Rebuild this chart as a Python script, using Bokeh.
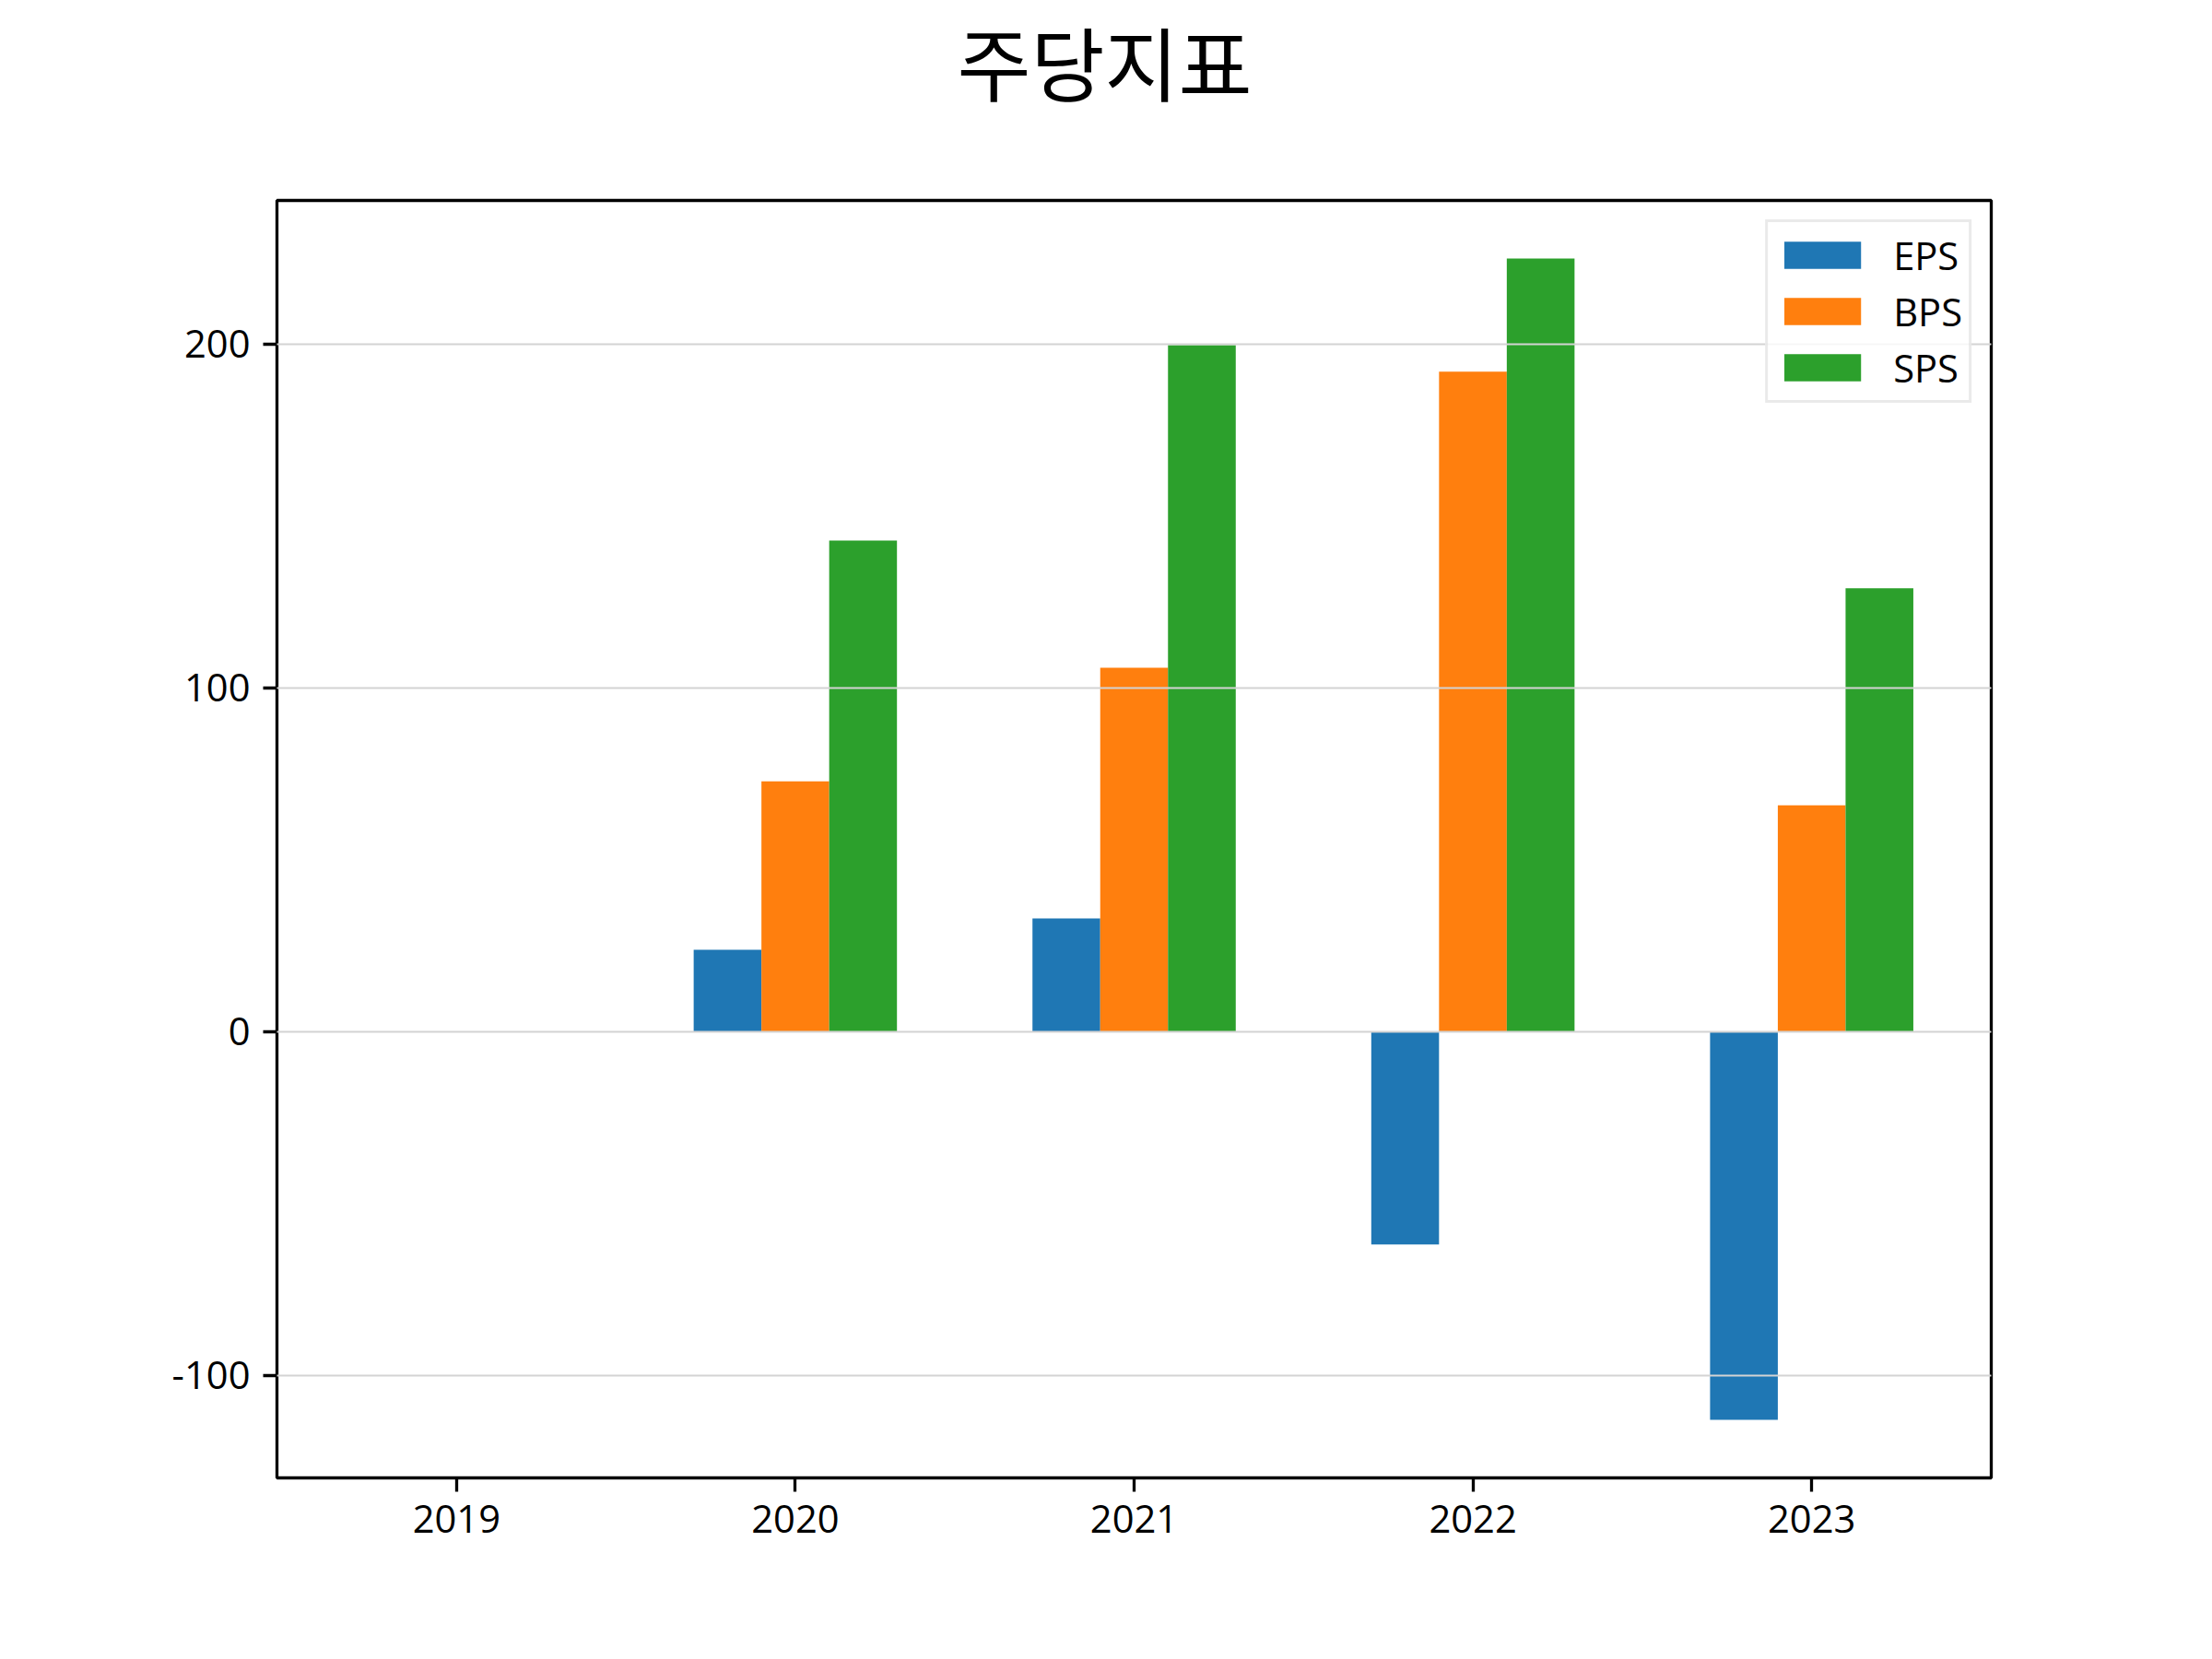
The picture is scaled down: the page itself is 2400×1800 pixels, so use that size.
from bokeh.plotting import figure
from bokeh.models import ColumnDataSource, Range1d, FixedTicker, Title
from bokeh.transform import dodge
from bokeh.embed import file_html
from bokeh.resources import INLINE

chart_title = "주당지표"
years = ["2019", "2020", "2021", "2022", "2023"]
eps = [0, 23.8, 32.9, -61.9, -112.9]
bps = [0, 72.8, 105.8, 191.9, 65.8]
sps = [0, 142.8, 199.6, 224.8, 128.9]
series_names = ["EPS", "BPS", "SPS"]
colors = ["#1f77b4", "#ff7f0e", "#2ca02c"]
y_ticks = [-100, 0, 100, 200]

bar_w = 0.2
idx = list(range(len(years)))
src = ColumnDataSource(dict(x=idx, EPS=eps, BPS=bps, SPS=sps))

all_vals = eps + bps + sps
lo_v, hi_v = min(all_vals), max(all_vals)
pad_y = 0.05 * (hi_v - lo_v)
x_lo = idx[0] - 1.5 * bar_w
x_hi = idx[-1] + 1.5 * bar_w
pad_x = 0.05 * (x_hi - x_lo)

p = figure(frame_width=1860, frame_height=1386,
           x_range=Range1d(x_lo - pad_x, x_hi + pad_x),
           y_range=Range1d(lo_v - pad_y, hi_v + pad_y),
           output_backend="svg", toolbar_location=None,
           min_border_left=300, min_border_right=224,
           min_border_top=216, min_border_bottom=182)
p.background_fill_color = "white"
p.border_fill_color = "white"
p.title = None

# spacer panel next to the frame, then the title outside it
p.add_layout(Title(text=" ", text_font_size="1px", standoff=86), "above")
p.add_layout(Title(text=chart_title, align="left", offset=738, standoff=0,
                   text_font="Noto Sans CJK KR", text_font_size="87px",
                   text_font_style="normal", text_color="black"), "above")

offsets = [-bar_w, 0, bar_w]
for name, col, off in zip(series_names, colors, offsets):
    p.vbar(x=dodge("x", off, range=p.x_range), top=name, bottom=0, width=bar_w,
           source=src, fill_color=col, line_color=None, legend_label=name)

p.outline_line_color = "black"
p.outline_line_width = 3.3

for ax in (p.xaxis, p.yaxis):
    ax.axis_line_color = None
    ax.major_tick_in = 0
    ax.major_tick_out = 15
    ax.major_tick_line_width = 3.3
    ax.major_tick_line_color = "black"
    ax.minor_tick_line_color = None
    ax.major_label_text_font = "Open Sans"
    ax.major_label_text_font_size = "41.7px"
    ax.major_label_text_color = "black"
    ax.major_label_standoff = 14

p.xaxis.ticker = FixedTicker(ticks=idx)
p.xaxis.major_label_overrides = {i: y for i, y in zip(idx, years)}
p.yaxis.ticker = FixedTicker(ticks=y_ticks)
p.yaxis.major_label_overrides = {t: str(t) for t in y_ticks}

p.xgrid.grid_line_color = None
p.ygrid.grid_line_color = "#d3d3d3"
p.ygrid.grid_line_width = 2
p.ygrid.level = "guide"

lg = p.legend[0]
lg.location = "top_right"
lg.margin = 21
lg.padding = 7
lg.spacing = 4
lg.glyph_width = 104
lg.glyph_height = 37
lg.label_height = 30
lg.label_standoff = 25
lg.label_text_font = "Open Sans"
lg.label_text_font_size = "41.7px"
lg.label_text_color = "black"
lg.border_line_color = "#d6d6d6"
lg.border_line_width = 3
lg.background_fill_alpha = 0.8

open("out.html", "w").write(file_html(p, INLINE))
